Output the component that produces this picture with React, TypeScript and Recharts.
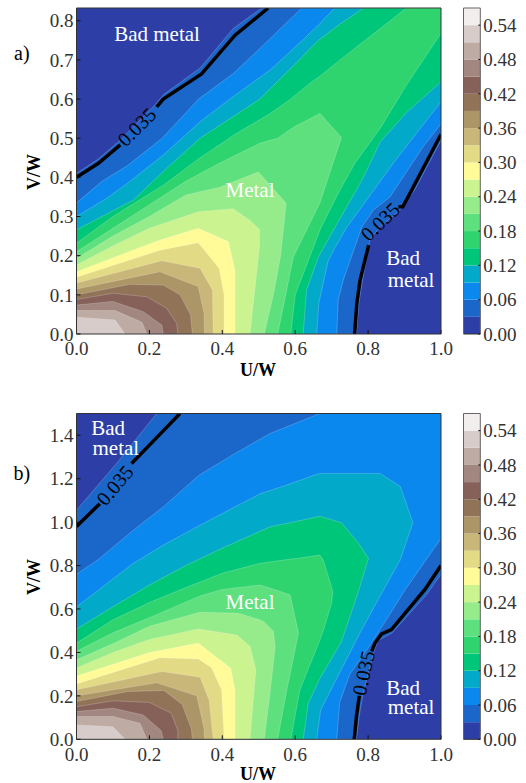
import { Area, Bar, BarChart, ComposedChart, Line, ReferenceDot, XAxis, YAxis } from 'recharts';

const FONT = '"Liberation Serif", serif';

// band colours from 0.00-0.03 up to 0.54-0.57
const bandColors = [
  '#2D3FA6', '#1B66C9', '#0A88EE', '#03A9C9', '#00C679', '#2FD46F', '#5FE07F', '#96EB8A', '#CBF38F', '#FFFB99',
  '#E3DA86', '#C8B778', '#AC9566', '#917458', '#86615A', '#A28680', '#BEABA4', '#D8CCCA', '#F2EEEE',
];
const barTicks = [0, 0.06, 0.12, 0.18, 0.24, 0.3, 0.36, 0.42, 0.48, 0.54];
const xTicks = [0, 0.2, 0.4, 0.6, 0.8, 1];

// panel a: each level is a list of [U/W, low V/W, high V/W]
const TA = 0.8325;
const aTicks = [0, 0.1, 0.2, 0.3, 0.4, 0.5, 0.6, 0.7, 0.8];
const aLevels = [
  [[0, 0, TA], [1, 0, TA]],
  [[0, 0, 0.41], [0.06, 0, 0.447], [0.12, 0, 0.495], [0.215, 0, 0.585], [0.24, 0, 0.612], [0.34, 0, 0.68], [0.43, 0, 0.78], [0.508, 0, TA], [0.768, 0, TA], [0.775, 0.08, TA], [0.785, 0.138, TA], [0.805, 0.24, TA], [0.833, 0.274, TA], [0.883, 0.312, TA], [0.928, 0.368, TA], [1, 0.495, TA]],
  [[0, 0, 0.335], [0.07, 0, 0.39], [0.14, 0, 0.43], [0.235, 0, 0.5], [0.335, 0, 0.6], [0.43, 0, 0.665], [0.503, 0, 0.729], [0.618, 0, TA], [0.714, 0, TA], [0.718, 0.087, TA], [0.732, 0.138, TA], [0.783, 0.274, TA], [0.815, 0.317, TA], [0.86, 0.35, TA], [0.951, 0.478, TA], [1, 0.537, TA]],
  [[0, 0, 0.3], [0.08, 0, 0.345], [0.14, 0, 0.385], [0.238, 0, 0.457], [0.339, 0, 0.542], [0.435, 0, 0.61], [0.531, 0, 0.674], [0.62, 0, 0.75], [0.659, 0, 0.785], [0.665, 0.08, 0.79], [0.69, 0.185, 0.815], [0.709, 0.22, TA], [0.74, 0.27, TA], [0.796, 0.342, TA], [0.869, 0.436, TA], [1, 0.593, TA]],
  [[0, 0, 0.266], [0.156, 0, 0.342], [0.238, 0, 0.415], [0.339, 0, 0.5], [0.503, 0, 0.6], [0.622, 0, 0.71], [0.631, 0.112, 0.72], [0.664, 0.197, 0.75], [0.72, 0.29, 0.79], [0.768, 0.368, 0.82], [0.787, 0.4, TA], [0.833, 0.49, TA], [0.905, 0.565, TA], [1, 0.644, TA]],
  [[0, 0, 0.232], [0.1, 0, 0.3], [0.238, 0, 0.38], [0.339, 0, 0.45], [0.435, 0, 0.51], [0.531, 0, 0.563], [0.588, 0, 0.6], [0.6, 0.1, 0.61], [0.64, 0.197, 0.64], [0.67, 0.27, 0.66], [0.723, 0.368, 0.7], [0.764, 0.436, 0.73], [0.833, 0.525, 0.78], [0.905, 0.635, TA], [1, 0.768, TA]],
  [[0, 0, 0.21], [0.1, 0, 0.27], [0.2, 0, 0.33], [0.3, 0, 0.39], [0.4, 0, 0.44], [0.503, 0, 0.487], [0.552, 0, 0.5], [0.595, 0.197, 0.528], [0.668, 0.335, 0.563], [0.727, 0.502, 0.502]],
  [[0, 0, 0.193], [0.1, 0, 0.25], [0.2, 0, 0.3], [0.3, 0, 0.355], [0.394, 0, 0.375], [0.499, 0, 0.414], [0.515, 0, 0.397], [0.54, 0.1, 0.37], [0.56, 0.2, 0.35], [0.575, 0.334, 0.334]],
  [[0, 0, 0.176], [0.1, 0, 0.225], [0.2, 0, 0.27], [0.334, 0, 0.312], [0.43, 0, 0.32], [0.476, 0, 0.29], [0.503, 0.231, 0.266]],
  [[0, 0, 0.159], [0.1, 0, 0.195], [0.229, 0, 0.24], [0.334, 0, 0.27], [0.417, 0, 0.236], [0.435, 0, 0.163], [0.435, 0, 0]],
  [[0, 0, 0.145], [0.229, 0, 0.214], [0.334, 0, 0.233], [0.391, 0, 0.168], [0.405, 0, 0.1], [0.405, 0, 0]],
  [[0, 0, 0.13], [0.234, 0, 0.187], [0.339, 0, 0.168], [0.373, 0, 0.112], [0.375, 0, 0]],
  [[0, 0, 0.115], [0.229, 0, 0.159], [0.334, 0, 0.121], [0.35, 0, 0.053], [0.351, 0, 0]],
  [[0, 0, 0.1], [0.147, 0, 0.127], [0.238, 0, 0.125], [0.284, 0, 0.1], [0.313, 0, 0.049], [0.318, 0, 0]],
  [[0, 0, 0.088], [0.1, 0, 0.104], [0.193, 0, 0.095], [0.247, 0, 0.066], [0.275, 0, 0.027], [0.278, 0, 0]],
  [[0, 0, 0.074], [0.1, 0, 0.083], [0.183, 0, 0.057], [0.234, 0, 0.023], [0.238, 0, 0]],
  [[0, 0, 0.06], [0.106, 0, 0.06], [0.18, 0, 0.03], [0.193, 0, 0]],
  [[0, 0, 0.043], [0.106, 0, 0.036], [0.133, 0, 0]],
];
const aLine = [
  [0, 0.4], [0.06, 0.436], [0.12, 0.483], [0.165, null], [0.22, 0.58], [0.238, 0.6], [0.343, 0.664], [0.435, 0.763], [0.526, TA],
  [0.6, null],
  [0.763, 0], [0.769, 0.078], [0.778, 0.138], [0.8015, 0.227], [0.84, null], [0.883, 0.325], [0.895, 0.325], [0.92, 0.368], [1, 0.51],
];

// panel b
const TB = 1.5;
const bTicks = [0, 0.2, 0.4, 0.6, 0.8, 1, 1.2, 1.4];
const bLevels = [
  [[0, 0, TB], [1, 0, TB]],
  [[0, 0, 1.055], [0.11, 0, 1.27], [0.22, 0, TB], [0.768, 0, TB], [0.775, 0.1, TB], [0.785, 0.2, TB], [0.815, 0.4, TB], [0.828, 0.455, TB], [0.866, 0.49, TB], [0.96, 0.665, TB], [1, 0.76, TB]],
  [[0, 0, 0.76], [0.06, 0, 0.828], [0.156, 0, 0.963], [0.238, 0, 1.07], [0.336, 0, 1.216], [0.435, 0, 1.316], [0.531, 0, 1.408], [0.668, 0, TB], [0.714, 0, TB], [0.722, 0.17, TB], [0.75, 0.3, TB], [0.8, 0.42, TB], [0.85, 0.55, TB], [0.902, 0.689, TB], [1, 0.925, TB]],
  [[0, 0, 0.61], [0.156, 0, 0.81], [0.238, 0, 0.894], [0.339, 0, 0.986], [0.503, 0, 1.13], [0.567, 0, 1.165], [0.659, 0, 1.22], [0.67, 0.135, 1.224], [0.72, 0.3, 1.224], [0.778, 0.49, 1.224], [0.833, 0.66, 1.224], [0.888, 0.825, 1.165], [0.923, 0.997, 0.997]],
  [[0, 0, 0.508], [0.1, 0, 0.61], [0.2, 0, 0.71], [0.3, 0, 0.8], [0.4, 0, 0.88], [0.531, 0, 0.978], [0.622, 0, 1.01], [0.636, 0.166, 1.015], [0.668, 0.28, 1.027], [0.727, 0.45, 0.997], [0.775, 0.689, 0.9], [0.801, 0.833, 0.833]],
  [[0, 0, 0.443], [0.1, 0, 0.55], [0.2, 0, 0.63], [0.302, 0, 0.7], [0.4, 0, 0.765], [0.503, 0, 0.81], [0.588, 0, 0.83], [0.613, 0.228, 0.835], [0.668, 0.458, 0.848], [0.677, 0.5, 0.825], [0.7, 0.628, 0.7], [0.703, 0.68, 0.68]],
  [[0, 0, 0.405], [0.1, 0, 0.49], [0.2, 0, 0.56], [0.339, 0, 0.66], [0.4, 0, 0.69], [0.503, 0, 0.71], [0.552, 0, 0.685], [0.577, 0.228, 0.67], [0.586, 0.3, 0.665], [0.609, 0.49, 0.49]],
  [[0, 0, 0.366], [0.1, 0, 0.44], [0.2, 0, 0.52], [0.339, 0, 0.585], [0.444, 0, 0.58], [0.503, 0, 0.55], [0.515, 0, 0.54], [0.53, 0.2, 0.515], [0.54, 0.35, 0.497], [0.545, 0.428, 0.428]],
  [[0, 0, 0.328], [0.1, 0, 0.4], [0.2, 0, 0.46], [0.334, 0, 0.508], [0.44, 0, 0.48], [0.476, 0, 0.428], [0.492, 0.32, 0.32]],
  [[0, 0, 0.292], [0.1, 0, 0.345], [0.2, 0, 0.4], [0.334, 0, 0.443], [0.423, 0, 0.328], [0.435, 0, 0.228], [0.435, 0, 0]],
  [[0, 0, 0.255], [0.229, 0, 0.375], [0.334, 0, 0.37], [0.37, 0, 0.33], [0.398, 0, 0.228], [0.405, 0, 0]],
  [[0, 0, 0.228], [0.234, 0, 0.312], [0.339, 0, 0.286], [0.364, 0, 0.18], [0.375, 0, 0]],
  [[0, 0, 0.2], [0.22, 0, 0.26], [0.33, 0, 0.2], [0.35, 0, 0.05], [0.351, 0, 0]],
  [[0, 0, 0.174], [0.14, 0, 0.22], [0.24, 0, 0.225], [0.29, 0, 0.16], [0.315, 0, 0.05], [0.318, 0, 0]],
  [[0, 0, 0.15], [0.1, 0, 0.177], [0.2, 0, 0.17], [0.26, 0, 0.12], [0.278, 0, 0.04], [0.278, 0, 0]],
  [[0, 0, 0.128], [0.1, 0, 0.143], [0.183, 0, 0.112], [0.232, 0, 0.04], [0.238, 0, 0]],
  [[0, 0, 0.105], [0.1, 0, 0.105], [0.174, 0, 0.074], [0.193, 0, 0]],
  [[0, 0, 0.066], [0.1, 0, 0.058], [0.133, 0, 0]],
];
const bLine = [
  [0, 0.98], [0.064, 1.085], [0.105, null], [0.151, 1.27], [0.238, 1.42], [0.284, TB],
  [0.5, null],
  [0.762, 0], [0.768, 0.105], [0.776, 0.2], [0.79, null], [0.81, 0.405], [0.819, 0.443], [0.837, 0.485], [0.864, 0.505], [0.956, 0.69], [1, 0.8],
];

// [text, x, y, colour, size, angle, weight]
const aNotes = [
  ['Bad metal', 0.221, 0.766, '#fff', 21, 0, 'normal'],
  ['Metal', 0.476, 0.368, '#fff', 21, 0, 'normal'],
  ['Bad', 0.896, 0.194, '#fff', 21, 0, 'normal'],
  ['metal', 0.918, 0.14, '#fff', 21, 0, 'normal'],
  ['0.035', 0.165, 0.529, '#000', 20, -45, 'normal'],
  ['0.035', 0.833, 0.287, '#000', 20, -44, 'normal'],
  ['a)', -0.15, 0.718, '#000', 20, 0, 'normal'],
  ['V/W', -0.119, 0.414, '#000', 18, -90, 'bold'],
  ['U/W', 0.498, -0.092, '#000', 18, 0, 'bold'],
];
const bNotes = [
  ['Bad', 0.087, 1.437, '#fff', 21, 0, 'normal'],
  ['metal', 0.108, 1.345, '#fff', 21, 0, 'normal'],
  ['Metal', 0.476, 0.632, '#fff', 21, 0, 'normal'],
  ['Bad', 0.896, 0.24, '#fff', 21, 0, 'normal'],
  ['metal', 0.918, 0.15, '#fff', 21, 0, 'normal'],
  ['0.035', 0.105, 1.17, '#000', 20, -50, 'normal'],
  ['0.035', 0.787, 0.305, '#000', 20, -78, 'normal'],
  ['b)', -0.15, 1.225, '#000', 20, 0, 'normal'],
  ['V/W', -0.119, 0.747, '#000', 18, -90, 'bold'],
  ['U/W', 0.498, -0.16, '#000', 18, 0, 'bold'],
];

const blank = () => '';
const tickStyle = { fontFamily: FONT, fontSize: 19, fill: '#333' };
const lineStyle = { stroke: '#333', strokeWidth: 1 };

function Contour({ levels, line, notes, yMax, yTicks, topGap, bottomGap, height, offset }: any) {
  const rows = levels.map((pts: number[][]) => pts.map(([x, lo, hi]) => ({ x, band: [lo, hi] })));
  const lineRows = line.map(([x, y]: any[]) => ({ x, y }));
  return (
    <div style={{ position: 'absolute', left: 0, top: offset }}>
      <ComposedChart width={526} height={height} margin={{ top: topGap - 1, left: 75.5, right: 84, bottom: bottomGap - 1 }}>
        {rows.map((r: any[], i: number) => (
          <Area key={i} data={r} dataKey="band" type="linear" fill={bandColors[i]} fillOpacity={1} stroke="rgba(255,255,255,0.35)" strokeWidth={i ? 0.6 : 0} dot={false} activeDot={false} isAnimationActive={false} />
        ))}
        <Line data={lineRows} dataKey="y" type="linear" stroke="#000" strokeWidth={3.5} dot={false} activeDot={false} isAnimationActive={false} />
        <XAxis dataKey="x" type="number" domain={[0, 1]} ticks={xTicks} height={1} tickSize={-4} tickMargin={12} tick={tickStyle} axisLine={lineStyle} tickLine={{ stroke: '#111' }} tickFormatter={(v: number) => v.toFixed(1)} allowDataOverflow />
        <XAxis xAxisId="top" orientation="top" type="number" domain={[0, 1]} ticks={xTicks} height={1} tickSize={-4} tickMargin={0} axisLine={lineStyle} tickLine={{ stroke: '#111' }} tickFormatter={blank} />
        <YAxis type="number" domain={[0, yMax]} ticks={yTicks} width={1} tickSize={-4} tickMargin={7} tick={tickStyle} axisLine={lineStyle} tickLine={{ stroke: '#111' }} tickFormatter={(v: number) => v.toFixed(1)} allowDataOverflow />
        <YAxis yAxisId="right" orientation="right" type="number" domain={[0, yMax]} ticks={yTicks} width={1} tickSize={-4} tickMargin={0} axisLine={lineStyle} tickLine={{ stroke: '#111' }} tickFormatter={blank} />
        {notes.map(([value, x, y, fill, fontSize, angle, fontWeight]: any[], i: number) => (
          <ReferenceDot key={i} x={x} y={y} r={0} stroke="none" fill="none" ifOverflow="visible" label={{ value, position: 'center', fill, fontSize, angle, fontWeight, fontFamily: FONT }} />
        ))}
      </ComposedChart>
    </div>
  );
}

function ColorBar({ topGap, bottomGap, height, offset }: any) {
  const row: any = { name: 'levels' };
  bandColors.forEach((_, i) => { row[`b${i}`] = 0.03; });
  return (
    <div style={{ position: 'absolute', left: 0, top: offset }}>
      <BarChart width={526} height={height} data={[row]} barCategoryGap={0} margin={{ top: topGap - 1, left: 462.5, right: 44.7, bottom: bottomGap - 1 }}>
        {bandColors.map((c, i) => (
          <Bar key={c} dataKey={`b${i}`} stackId="bar" fill={c} isAnimationActive={false} />
        ))}
        <XAxis dataKey="name" height={1} tick={false} tickLine={false} axisLine={lineStyle} />
        <XAxis xAxisId="top" orientation="top" dataKey="name" height={1} tick={false} tickLine={false} axisLine={{ stroke: '#666' }} />
        <YAxis orientation="left" yAxisId="left" type="number" domain={[0, 0.57]} width={1} tick={false} tickLine={false} axisLine={{ stroke: '#666' }} />
        <YAxis orientation="right" type="number" domain={[0, 0.57]} ticks={barTicks} width={1} tickSize={-2} tickMargin={5} tick={{ ...tickStyle, textAnchor: 'start' }} axisLine={{ stroke: '#666' }} tickLine={{ stroke: '#111' }} tickFormatter={(v: number) => v.toFixed(2)} />
      </BarChart>
    </div>
  );
}

export default function App() {
  return (
    <div style={{ position: 'absolute', left: 0, top: 0, width: 526, height: 783 }}>
      <Contour levels={aLevels} line={aLine} notes={aNotes} yMax={TA} yTicks={aTicks} topGap={8} bottomGap={56} height={390} offset={0} />
      <ColorBar topGap={8} bottomGap={56} height={390} offset={0} />
      <Contour levels={bLevels} line={bLine} notes={bNotes} yMax={TB} yTicks={bTicks} topGap={13.5} bottomGap={43.7} height={383} offset={400} />
      <ColorBar topGap={13.5} bottomGap={43.7} height={383} offset={400} />
    </div>
  );
}
